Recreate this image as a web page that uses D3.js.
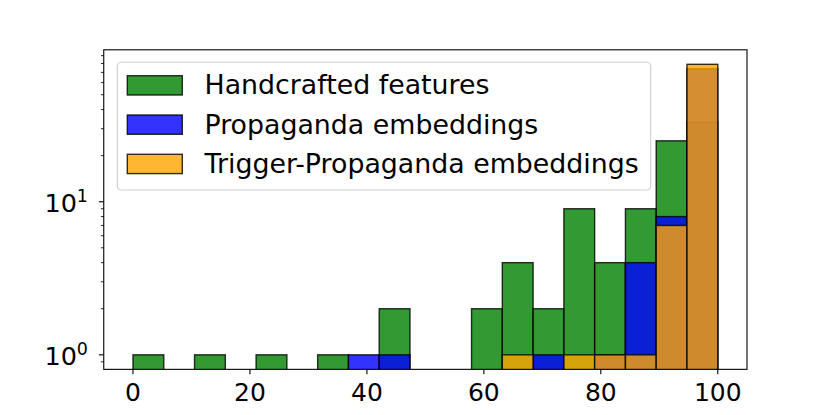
<!DOCTYPE html>
<html>
<head>
<meta charset="utf-8">
<script src="https://cdn.jsdelivr.net/npm/d3@7"></script>
<style>
  body { margin: 0; background: #fff; }
  svg { display: block; font-family: "DejaVu Sans", sans-serif; }
</style>
</head>
<body>
<div id="chart"></div>
<script>
// Data: 19 equal bins between 0 and 100, counts per bin
const binStart = 0, binEnd = 100, binCount = 19;
const seriesNames = ["Handcrafted features", "Propaganda embeddings", "Trigger-Propaganda embeddings"];
const handcrafted = [1, 0, 1, 0, 1, 0, 1, 0, 2, 0, 0, 2, 4, 2, 9, 4, 9, 25, 33];
const propaganda  = [0, 0, 0, 0, 0, 0, 0, 1, 1, 0, 0, 0, 0, 1, 0, 1, 4, 8, 74];
const trigger     = [0, 0, 0, 0, 0, 0, 0, 0, 0, 0, 0, 0, 1, 0, 1, 1, 1, 7, 79];
const xTicks = [0, 20, 40, 60, 80, 100];
const yMajor = [1, 10];

const colors = ["green", "blue", "orange"];
const series = [handcrafted, propaganda, trigger];

// Set dimensions (matplotlib default subplot box)
const W = 830, H = 415;
const margin = { left: 103.75, right: 83, top: 49.8, bottom: 45.65 };
const x0 = margin.left, x1 = W - margin.right;
const y0 = margin.top, y1 = H - margin.bottom;

const svg = d3.select("#chart").append("svg")
  .attr("width", W)
  .attr("height", H);

// Scales
const x = d3.scaleLinear().domain([-5, 105]).range([x0, x1]);
const maxCount = d3.max(series.flat());
const L = Math.log10(maxCount);
const y = d3.scaleLog()
  .domain([Math.pow(10, -0.05 * L), Math.pow(10, 1.05 * L)])
  .range([y1, y0]);

const binW = (binEnd - binStart) / binCount;

svg.append("clipPath").attr("id", "plot-clip")
  .append("rect")
  .attr("x", x0).attr("y", y0)
  .attr("width", x1 - x0).attr("height", y1 - y0);

const plot = svg.append("g").attr("clip-path", "url(#plot-clip)");

// Bars, one series after another
series.forEach((vals, si) => {
  const data = vals.map((v, i) => ({ i, v })).filter(d => d.v > 0);
  plot.append("g").selectAll("rect")
    .data(data)
    .join("rect")
    .attr("x", d => x(binStart + d.i * binW))
    .attr("width", d => x(binStart + (d.i + 1) * binW) - x(binStart + d.i * binW))
    .attr("y", d => y(d.v))
    .attr("height", d => y1 + 10 - y(d.v))
    .attr("fill", colors[si])
    .attr("fill-opacity", 0.8)
    .attr("stroke", "black")
    .attr("stroke-opacity", 0.8)
    .attr("stroke-width", 1.4);
});

// Axes frame
svg.append("rect")
  .attr("x", x0).attr("y", y0)
  .attr("width", x1 - x0).attr("height", y1 - y0)
  .attr("fill", "none")
  .attr("stroke", "black")
  .attr("stroke-width", 1.1);

// X axis
const xAxis = svg.append("g");
xAxis.selectAll("line")
  .data(xTicks)
  .join("line")
  .attr("x1", d => x(d)).attr("x2", d => x(d))
  .attr("y1", y1).attr("y2", y1 + 4.9)
  .attr("stroke", "black").attr("stroke-width", 1.1);
xAxis.selectAll("text")
  .data(xTicks)
  .join("text")
  .attr("x", d => x(d))
  .attr("y", y1 + 32)
  .attr("text-anchor", "middle")
  .attr("font-size", 25)
  .text(d => d);

// Y axis: major and minor log ticks
const [ylo, yhi] = y.domain();
const minor = [];
for (let e = -1; e <= 2; e++) {
  for (let m = 2; m <= 9; m++) {
    const v = m * Math.pow(10, e);
    if (v >= ylo && v <= yhi) minor.push(v);
  }
}
const yAxis = svg.append("g");
yAxis.selectAll("line.minor")
  .data(minor)
  .join("line")
  .attr("class", "minor")
  .attr("x1", x0).attr("x2", x0 - 2.8)
  .attr("y1", d => y(d)).attr("y2", d => y(d))
  .attr("stroke", "black").attr("stroke-width", 0.85);
yAxis.selectAll("line.major")
  .data(yMajor)
  .join("line")
  .attr("class", "major")
  .attr("x1", x0).attr("x2", x0 - 4.9)
  .attr("y1", d => y(d)).attr("y2", d => y(d))
  .attr("stroke", "black").attr("stroke-width", 1.1);
const yl = yAxis.selectAll("text")
  .data(yMajor)
  .join("text")
  .attr("x", 88)
  .attr("y", d => y(d) + 10.5)
  .attr("text-anchor", "end")
  .attr("font-size", 25.5);
yl.append("tspan").text("10");
yl.append("tspan")
  .attr("font-size", 17.5)
  .attr("dy", -10.5)
  .text(d => Math.round(Math.log10(d)));

// Legend
const lg = svg.append("g");
lg.append("rect")
  .attr("x", 117.3).attr("y", 62.3)
  .attr("width", 533.4).attr("height", 127.7)
  .attr("rx", 4)
  .attr("fill", "white").attr("fill-opacity", 0.8)
  .attr("stroke", "#cccccc").attr("stroke-width", 1.1);
seriesNames.forEach((name, i) => {
  lg.append("rect")
    .attr("x", 127.3).attr("y", 75.7 + i * 39.3)
    .attr("width", 55).attr("height", 19.3)
    .attr("fill", colors[i]).attr("fill-opacity", 0.8)
    .attr("stroke", "black").attr("stroke-opacity", 0.8)
    .attr("stroke-width", 1.4);
  lg.append("text")
    .attr("x", 204.5).attr("y", 94.3 + i * 39.3)
    .attr("font-size", 26.8)
    .text(name);
});
</script>
</body>
</html>
